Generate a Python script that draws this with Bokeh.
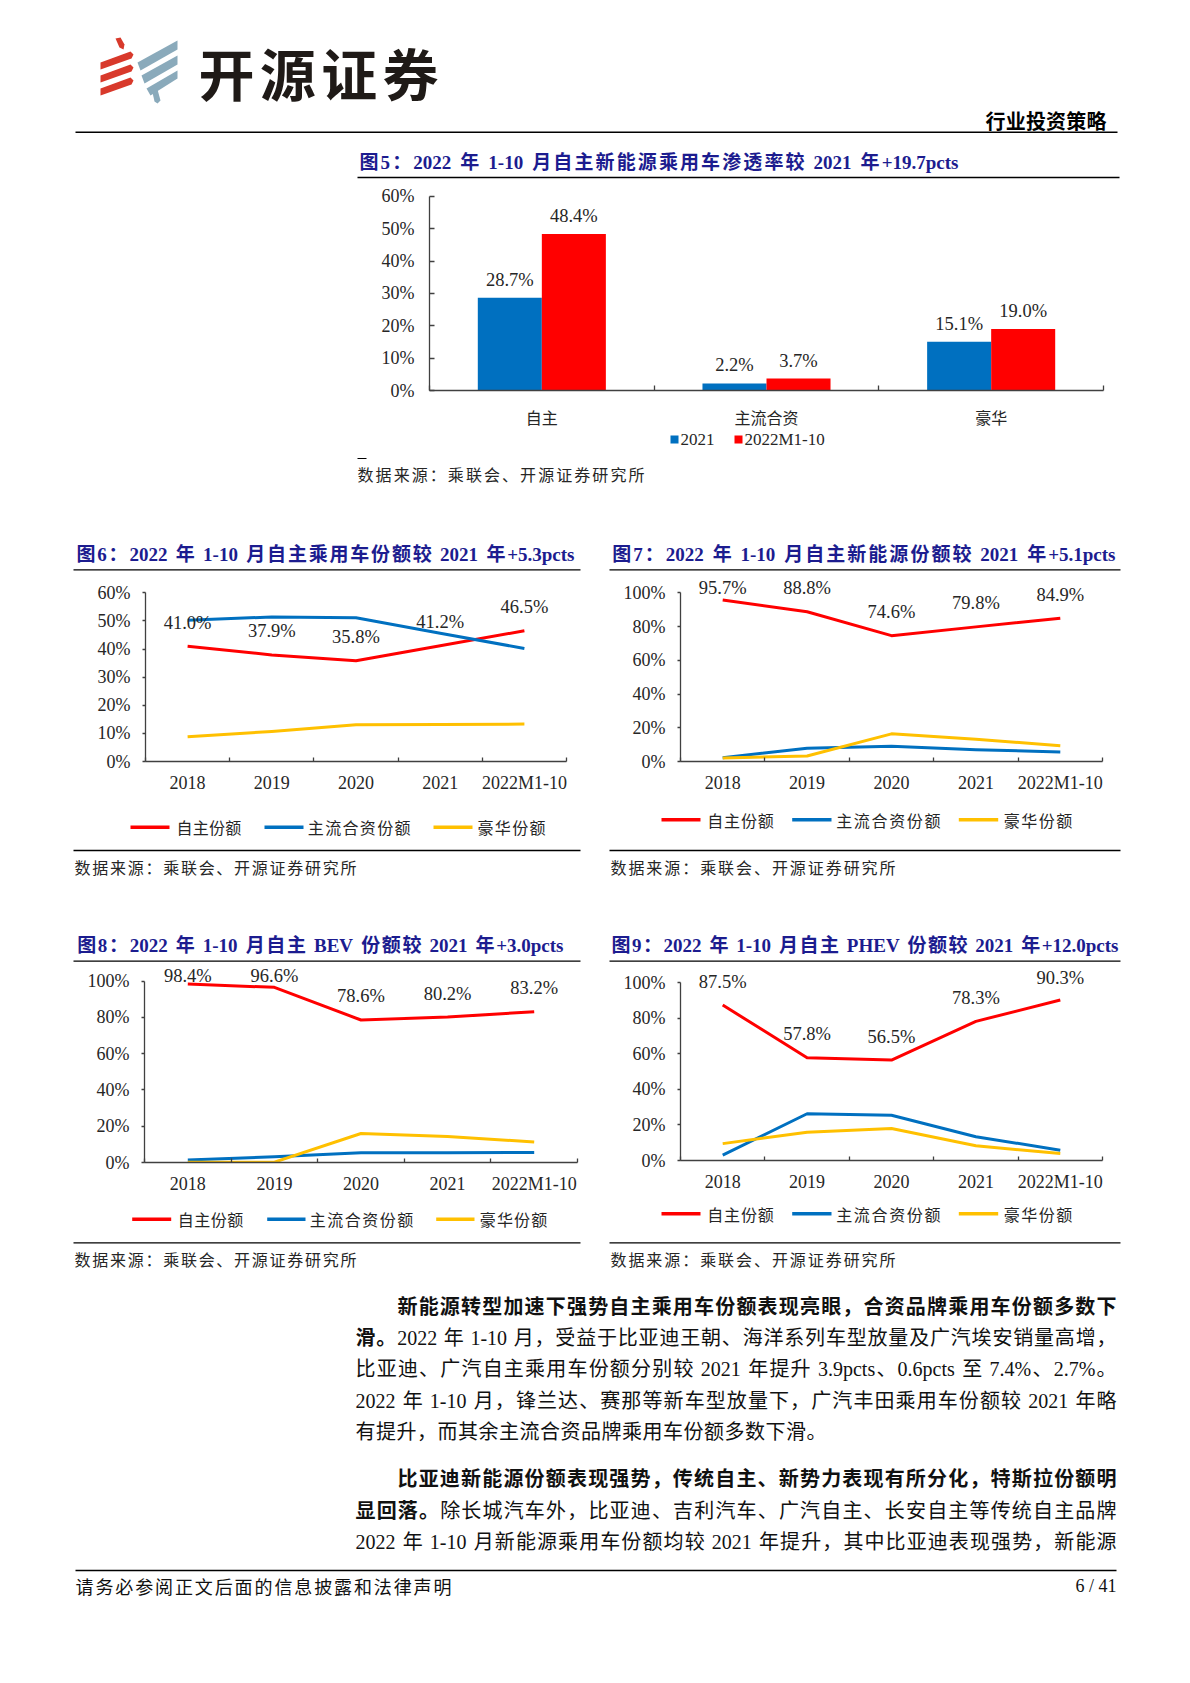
import numpy as np
from bokeh.plotting import figure
from bokeh.models import Range1d, FixedTicker, CustomJSTickFormatter
from bokeh.layouts import column, row
from bokeh.core.properties import value
from bokeh.embed import file_html
from bokeh.resources import INLINE

# ---------------- data ----------------
c5_categories = ["自主", "主流合资", "豪华"]
c5_series = ["2021", "2022M1-10"]
c5_2021 = [28.7, 2.2, 15.1]
c5_2022 = [48.4, 3.7, 19.0]

years = ["2018", "2019", "2020", "2021", "2022M1-10"]
series_names = ["自主份额", "主流合资份额", "豪华份额"]
c6_own = [41.0, 37.9, 35.8, 41.2, 46.5]
c6_jv = [50.2, 51.4, 51.1, 45.6, 40.2]
c6_lux = [8.8, 10.7, 13.1, 13.2, 13.3]
c7_own = [95.7, 88.8, 74.6, 79.8, 84.9]
c7_jv = [2.2, 7.9, 9.0, 7.0, 5.7]
c7_lux = [2.1, 3.3, 16.4, 13.2, 9.4]
c8_own = [98.4, 96.6, 78.6, 80.2, 83.2]
c8_jv = [1.4, 3.2, 5.4, 5.4, 5.5]
c8_lux = [0.2, 0.2, 16.0, 14.4, 11.3]
c9_own = [87.5, 57.8, 56.5, 78.3, 90.3]
c9_jv = [3.0, 26.3, 25.5, 13.4, 5.8]
c9_lux = [9.5, 15.9, 18.0, 8.3, 3.9]

titles = {
    5: "图5：2022 年 1-10 月自主新能源乘用车渗透率较 2021 年+19.7pcts",
    6: "图6：2022 年 1-10 月自主乘用车份额较 2021 年+5.3pcts",
    7: "图7：2022 年 1-10 月自主新能源份额较 2021 年+5.1pcts",
    8: "图8：2022 年 1-10 月自主 BEV 份额较 2021 年+3.0pcts",
    9: "图9：2022 年 1-10 月自主 PHEV 份额较 2021 年+12.0pcts",
}
source_text = "数据来源：乘联会、开源证券研究所"
header_brand = "开源证券"
header_right = "行业投资策略"
footer_left = "请务必参阅正文后面的信息披露和法律声明"
footer_right = "6 / 41"
para1 = [
    [("新能源转型加速下强势自主乘用车份额表现亮眼，合资品牌乘用车份额多数下", True)],
    [("滑。", True), ("2022 年 1-10 月，受益于比亚迪王朝、海洋系列车型放量及广汽埃安销量高增，", False)],
    [("比亚迪、广汽自主乘用车份额分别较 2021 年提升 3.9pcts、0.6pcts 至 7.4%、2.7%。", False)],
    [("2022 年 1-10 月，锋兰达、赛那等新车型放量下，广汽丰田乘用车份额较 2021 年略", False)],
    [("有提升，而其余主流合资品牌乘用车份额多数下滑。", False)],
]
para2 = [
    [("比亚迪新能源份额表现强势，传统自主、新势力表现有所分化，特斯拉份额明", True)],
    [("显回落。", True), ("除长城汽车外，比亚迪、吉利汽车、广汽自主、长安自主等传统自主品牌", False)],
    [("2022 年 1-10 月新能源乘用车份额均较 2021 年提升，其中比亚迪表现强势，新能源", False)],
]

# ---------------- styles ----------------
SERIF = "Liberation Serif, Noto Sans CJK SC"
CJK = "Noto Sans CJK SC"
NAVY = "#1c1c8f"
INK = "#111111"
GREY_TXT = "#262626"
AX = "#404040"
COLORS = ["#FF0000", "#0070C0", "#FFC000"]
TICK_SIZE = "18px"
LABEL_SIZE = "18.5px"
W = 1174
X0 = 0

LAT_R = {' ': .25, '-': .333, '.': .25, '%': .833, 'p': .5, 'c': .444, 't': .278, 's': .389,
         'M': .889, '+': .564, '/': .278, 'B': .667, 'E': .611, 'V': .722, 'P': .556, 'H': .722}
LAT_B = {' ': .25, '-': .333, '.': .25, '%': 1.0, 'p': .556, 'c': .444, 't': .333, 's': .389,
         'M': .944, '+': .57, '/': .278, 'B': .667, 'E': .667, 'V': .722, 'P': .611, 'H': .778}


def is_wide(ch):
    return ord(ch) >= 0x2E80


def tokenize(segments):
    toks = []
    for s, b in segments:
        buf = ""
        for ch in s:
            if is_wide(ch):
                if buf:
                    toks.append((buf, b, "lat")); buf = ""
                toks.append((ch, b, "wide"))
            elif ch == " ":
                if buf:
                    toks.append((buf, b, "lat")); buf = ""
                toks.append((" ", b, "space"))
            else:
                buf += ch
        if buf:
            toks.append((buf, b, "lat"))
    return toks


def tok_w(t, b, kind):
    if kind == "wide":
        return 1.0
    if kind == "space":
        return 0.25
    tab = LAT_B if b else LAT_R
    return sum(tab.get(c, 0.5) for c in t)


def draw_line(p, segments, x0, y, size, x1=None, tracking=0.0, color=INK, font=SERIF):
    toks = tokenize(segments)
    widths = [tok_w(*t) * size for t in toks]
    n = len(toks)
    if x1 is not None and n > 1:
        gap = ((x1 - x0) - sum(widths)) / (n - 1)
    else:
        gap = tracking
    xs, x = [], x0
    for w in widths:
        xs.append(x)
        x += w + gap
    for bold in (False, True):
        sel = [i for i, t in enumerate(toks) if t[1] == bold and t[2] != "space"]
        if sel:
            p.text(x=[xs[i] for i in sel], y=[y] * len(sel), text=[toks[i][0] for i in sel],
                   text_font=value(font), text_font_size=f"{size}px",
                   text_font_style="bold" if bold else "normal", text_color=color,
                   text_align="left", text_baseline="middle")


def band(y0, y1):
    p = figure(width=W, height=y1 - y0, x_range=Range1d(X0, X0 + W), y_range=Range1d(y1, y0),
               x_axis_type=None, y_axis_type=None, toolbar_location=None,
               output_backend="svg", min_border=0, outline_line_color=None,
               frame_align=False)
    return p


def hline(p, xa, xb, y, w=1.3, color="#000000"):
    p.segment(x0=[xa], y0=[y], x1=[xb], y1=[y], line_color=color, line_width=w)


def legend_lines(p, y, line_x, text_x, text_end):
    for i, name in enumerate(series_names):
        p.segment(x0=[line_x[i][0]], y0=[y], x1=[line_x[i][1]], y1=[y],
                  line_color=COLORS[i], line_width=3.5)
        draw_line(p, [(name, False)], text_x[i], y, 16, x1=text_end[i], color=GREY_TXT, font=CJK)


def style_x_axis(ax, labels, tick_in, font, size, standoff):
    n = len(labels)
    ax.ticker = FixedTicker(ticks=[i + 0.5 for i in range(n)], minor_ticks=list(range(n + 1)))
    ax.formatter = CustomJSTickFormatter(args=dict(labels=labels),
                                         code="return labels[Math.floor(tick)];")
    ax.major_tick_in = 0
    ax.major_tick_out = 0
    ax.major_tick_line_color = None
    ax.minor_tick_in = tick_in
    ax.minor_tick_out = 0
    ax.minor_tick_line_color = AX
    ax.minor_tick_line_width = 1.3
    ax.axis_line_color = AX
    ax.axis_line_width = 1.3
    ax.major_label_text_font = font
    ax.major_label_text_font_size = size
    ax.major_label_text_color = GREY_TXT
    ax.major_label_standoff = standoff


def style_y_axis(ax, ticks, tin, tout, standoff):
    ax.ticker = FixedTicker(ticks=ticks)
    ax.formatter = CustomJSTickFormatter(code="return tick.toFixed(0) + '%';")
    ax.bounds = (ticks[0], ticks[-1])
    ax.major_tick_in = tin
    ax.major_tick_out = tout
    ax.major_tick_line_color = AX
    ax.major_tick_line_width = 1.3
    ax.minor_tick_line_color = None
    ax.axis_line_color = AX
    ax.axis_line_width = 1.3
    ax.major_label_text_font = SERIF
    ax.major_label_text_font_size = TICK_SIZE
    ax.major_label_text_color = GREY_TXT
    ax.major_label_standoff = standoff


def line_chart(fig_w, left, frame_w, fig_h, frame_h, ymax, step, px_top, own, jv, lux):
    ppu = px_top / ymax
    ytop = frame_h / ppu
    p = figure(width=fig_w, height=fig_h, x_range=Range1d(0, len(years)), y_range=Range1d(0, ytop),
               toolbar_location=None, output_backend="svg",
               min_border_left=left, min_border_right=fig_w - left - frame_w,
               min_border_top=0, min_border_bottom=fig_h - frame_h, outline_line_color=None,
               frame_align=False)
    p.xgrid.visible = False
    p.ygrid.visible = False
    style_x_axis(p.xaxis[0], years, 4, SERIF, TICK_SIZE, 11)
    style_y_axis(p.yaxis[0], list(range(0, ymax + 1, step)), 0, 3, 12)
    xs = np.arange(len(years)) + 0.5
    for vals, col in zip([own, jv, lux], COLORS):
        p.line(x=xs, y=vals, line_color=col, line_width=3, line_join="round")
    lab_y = np.minimum(np.array(own) + 23.5 / ppu, ymax + 5.0 / ppu)
    p.text(x=xs, y=lab_y, text=[f"{v:.1f}%" for v in own], text_font=value(SERIF),
           text_font_size=LABEL_SIZE, text_color=GREY_TXT, text_align="center",
           text_baseline="middle")
    return p


# ---------------- band A: header ----------------
bA = band(0, 182)
red_logo = [
    [(115, 38), (120, 37), (124, 44), (123, 49), (119, 47)],
    [(100, 62), (130, 51), (133, 54), (131, 58), (100, 69)],
    [(100, 75), (130, 64), (133, 67), (131, 71), (100, 82)],
    [(100, 88), (130, 77), (133, 80), (131, 84), (100, 95)],
]
blue_logo = [
    [(137, 62), (177, 40), (177, 49), (140, 70)],
    [(141, 75), (177, 55), (177, 64), (144, 83)],
    [(146, 88), (177, 70), (177, 78), (150, 95)],
    [(152, 92), (157, 89), (160, 100), (157, 103), (154, 101)],
]
bA.patches(xs=[[q[0] for q in s] for s in red_logo], ys=[[q[1] for q in s] for s in red_logo],
           fill_color="#D8392B", line_color=None)
bA.patches(xs=[[q[0] for q in s] for s in blue_logo], ys=[[q[1] for q in s] for s in blue_logo],
           fill_color="#8AAABB", line_color=None)
draw_line(bA, [(header_brand, True)], 198, 71, 56, x1=438, color="#1f1a17", font=CJK)
draw_line(bA, [(header_right, True)], 985, 120, 20, x1=1106, color="#000000", font=CJK)
hline(bA, 75, 1117, 131.7, w=1.6)
draw_line(bA, [(titles[5], True)], 359, 162, 19, x1=958, color=NAVY)
hline(bA, 357, 1119, 177)

# ---------------- chart 5 ----------------
ppu5 = 195 / 60
p5 = figure(width=W, height=249, x_range=Range1d(0, 3), y_range=Range1d(0, 201 / ppu5),
            toolbar_location=None, output_backend="svg", min_border_left=429,
            min_border_right=W - 429 - 674, min_border_top=8, min_border_bottom=40,
            outline_line_color=None, frame_align=False)
p5.xgrid.visible = False
p5.ygrid.visible = False
style_x_axis(p5.xaxis[0], c5_categories, 5, CJK, "16px", 14)
style_y_axis(p5.yaxis[0], list(range(0, 61, 10)), 5, 0, 15)
cx = np.arange(3) + 0.5
for vals, col, dx in [(c5_2021, COLORS[1], -0.1425), (c5_2022, COLORS[0], 0.1425)]:
    p5.vbar(x=cx + dx, top=vals, width=0.285, fill_color=col, line_color=None)
    p5.text(x=cx + dx, y=np.array(vals) + 18 / ppu5, text=[f"{v:.1f}%" for v in vals],
            text_font=value(SERIF), text_font_size=LABEL_SIZE, text_color=GREY_TXT,
            text_align="center", text_baseline="middle")

# ---------------- band B ----------------
bB = band(431, 575)
for i, (name, col, sq_x, tx) in enumerate(zip(c5_series, [COLORS[1], COLORS[0]], [670, 734], [680, 744])):
    bB.quad(left=[sq_x], right=[sq_x + 8], top=[435], bottom=[443], fill_color=col, line_color=None)
    bB.text(x=[tx], y=[439], text=[name], text_font=value(SERIF), text_font_size="17px",
            text_color=GREY_TXT, text_align="left", text_baseline="middle")
hline(bB, 357, 366, 458, w=1)
draw_line(bB, [(source_text, False)], 357, 473, 16, x1=644, color=GREY_TXT, font=CJK)
draw_line(bB, [(titles[6], True)], 76, 554, 19, x1=574, color=NAVY)
draw_line(bB, [(titles[7], True)], 611.7, 554, 19, x1=1115, color=NAVY)
hline(bB, 73, 580, 569.3)
hline(bB, 609, 1120, 569.3)

# ---------------- row 2: charts 6, 7 ----------------
p6 = line_chart(600, 145, 421, 225, 186, 60, 10, 168.7, c6_own, c6_jv, c6_lux)
p7 = line_chart(574, 80, 422, 225, 186, 100, 20, 168.7, c7_own, c7_jv, c7_lux)

# ---------------- band C ----------------
bC = band(800, 966)
legend_lines(bC, 826.7, [(130, 169), (264, 303), (433, 472)], [176, 307.3, 477], [240.7, 410, 545])
legend_lines(bC, 819.3, [(661, 700), (791.7, 831), (958.3, 997.7)], [706.7, 835.7, 1003.3],
             [773.3, 940, 1071.7])
hline(bC, 73, 580, 850)
hline(bC, 609, 1120, 850)
draw_line(bC, [(source_text, False)], 74, 866.5, 16, x1=356, color=GREY_TXT, font=CJK)
draw_line(bC, [(source_text, False)], 610, 866.5, 16, x1=895, color=GREY_TXT, font=CJK)
draw_line(bC, [(titles[8], True)], 76.7, 945, 19, x1=563, color=NAVY)
draw_line(bC, [(titles[9], True)], 611, 945, 19, x1=1118, color=NAVY)
hline(bC, 73, 580, 960.7)
hline(bC, 609, 1120, 960.7)

# ---------------- row 3: charts 8, 9 ----------------
p8 = line_chart(600, 144, 433, 234, 196, 100, 20, 181.3, c8_own, c8_jv, c8_lux)
p9 = line_chart(574, 80, 422, 234, 194, 100, 20, 177.7, c9_own, c9_jv, c9_lux)

# ---------------- band D ----------------
bD = band(1200, 1600)
legend_lines(bD, 1218.7, [(131.7, 170.7), (266.7, 305), (435.7, 474)], [177.3, 309.3, 479.3],
             [242.7, 412.7, 546.7])
legend_lines(bD, 1213.3, [(661, 700), (791.7, 831), (958.3, 997.7)], [706.7, 835.7, 1003.3],
             [773.3, 940, 1071.7])
hline(bD, 73, 580, 1242.3)
hline(bD, 609, 1120, 1242.3)
draw_line(bD, [(source_text, False)], 74, 1258.3, 16, x1=356, color=GREY_TXT, font=CJK)
draw_line(bD, [(source_text, False)], 610, 1258.3, 16, x1=895, color=GREY_TXT, font=CJK)

p1_y = [1306, 1337, 1368, 1400, 1431]
for k, (segs, y) in enumerate(zip(para1, p1_y)):
    x0 = 397 if k == 0 else 355
    if k == len(para1) - 1:
        draw_line(bD, segs, x0, y, 20, tracking=0.5)
    else:
        draw_line(bD, segs, x0, y, 20, x1=1116)
p2_y = [1478, 1510, 1541]
for k, (segs, y) in enumerate(zip(para2, p2_y)):
    x0 = 397 if k == 0 else 355
    draw_line(bD, segs, x0, y, 20, x1=1116)

hline(bD, 75, 1116, 1570, w=1.6)
draw_line(bD, [(footer_left, False)], 75, 1585, 18, x1=451, color=INK, font=CJK)
bD.text(x=[1116], y=[1585], text=[footer_right], text_font=value(SERIF), text_font_size="18px",
        text_color=INK, text_align="right", text_baseline="middle")

layout = column(bA, p5, bB, row(p6, p7), bC, row(p8, p9), bD)
open("out.html", "w").write(file_html(layout, INLINE))
